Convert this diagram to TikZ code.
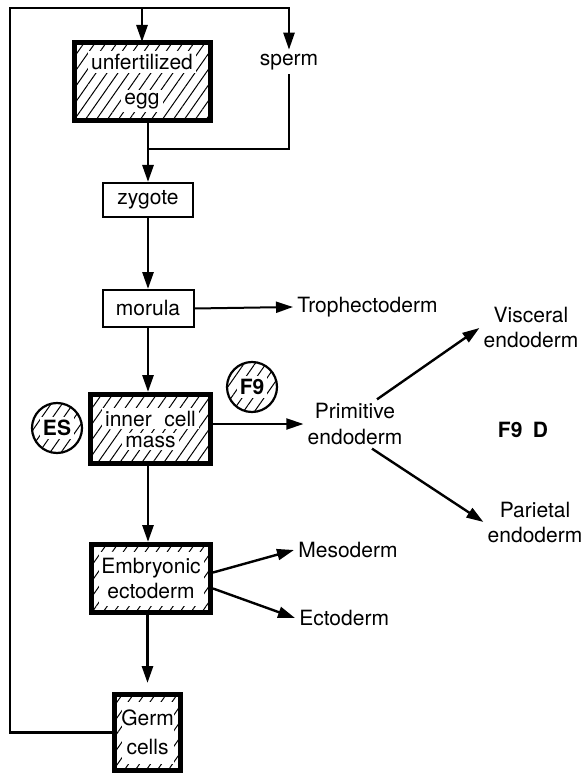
\documentclass[tikz,border=0pt]{standalone}
\usepackage{fontspec}
\setmainfont{TeX Gyre Heros}
\usepackage{tikz}
\usetikzlibrary{arrows.meta}
\usetikzlibrary{calc,shapes,patterns.meta}

\tikzset{
  hachure/.style={pattern={Lines[angle=55,distance=9pt,line width=1pt]}},
  cellbox/.style={draw,line width=5pt,hachure,align=center,inner sep=0pt},
  plainbox/.style={draw,line width=2pt,inner sep=0pt},
  inset/.style={path picture={\fill[white] ([shift={(#1,#1)}]path picture bounding box.south west) rectangle ([shift={(-#1,-#1)}]path picture bounding box.north east);}},
  cellcirc/.style={circle,draw,line width=2.2pt,hachure,minimum size=50pt,inner sep=0pt,font=\fontsize{21}{25}\selectfont\bfseries},
  lbl/.style={align=center},
  fleche/.style={->,line width=2.8pt}
}
\newcommand{\fond}[1]{\colorbox{white}{#1}}

\begin{document}
\begin{tikzpicture}[x=1pt,y=-1pt,line width=2pt,>={Triangle[length=17pt,width=11pt]},font=\fontsize{21}{25}\selectfont]
\useasboundingbox (0,0) rectangle (582,775);
% Boîtes
\node[cellbox,minimum width=136pt,minimum height=78pt] (egg) at (142,81.5) {\fond{unfertilized}\\[10pt]\fond{egg}};
\node (sperm) at (289,62) {sperm};
\node[plainbox,minimum width=90pt,minimum height=34pt] (zygote) at (148,200) {zygote};
\node[plainbox,minimum width=91pt,minimum height=37pt] (morula) at (148,308.5) {morula};
\node[anchor=west] (troph) at (293,307) {Trophectoderm};
\node[cellbox,minimum width=120pt,minimum height=69pt] (icm) at (150.5,429) {\fond{inner\hspace{0.6em}cell}\\[-4pt]\fond{mass}};
\node[cellcirc] (es) at (57,428) {\fond{ES}};
\node[cellcirc] (fnine) at (252,387) {\fond{F9}};
\node[lbl] (prim) at (355,424) {Primitive\\endoderm};
\node[lbl] (visc) at (531,328) {Visceral\\endoderm};
\node[lbl] (pari) at (535,522) {Parietal\\endoderm};
\node (fnined) at (523,430) {\bfseries F9\hspace{0.5em}D};
\node[cellbox,inset=7pt,minimum width=119pt,minimum height=68pt] (embryo) at (151,578.5) {Embryonic\\ectoderm};
\node[anchor=west] (meso) at (294,550) {Mesoderm};
\node[anchor=west] (ecto) at (295,618) {Ectoderm};
\node[cellbox,inset=7pt,minimum width=66pt,minimum height=76pt] (germ) at (147.5,732.5) {Germ\\[4pt]cells};

% Flèches
\coordinate (coinHG) at (10,8);
\coordinate (fusion) at (148,149);
\draw[->,line width=2.4pt] (germ.west) -| (coinHG) -| (sperm.north);
\draw[fleche] (egg.north |- coinHG) -- (egg.north);
\draw (sperm.south) |- (fusion);
\draw[fleche] (egg.south -| fusion) -- (zygote.north);
\draw[fleche] (zygote.south) -- (morula.north);
\draw[->] (morula.east) -- (troph.west);
\draw[fleche] (morula.south) -- (icm.north -| morula);
\draw[->] (icm.east |- prim.west) -- (prim.west);
\draw[->,line width=2.4pt] ([xshift=22pt]prim.north) -- (visc.west);
\draw[->,line width=2.4pt] ([xshift=17pt]prim.south) -- (pari.west);
\draw[fleche] (icm.south -| morula) -- (embryo.north -| morula);
\draw[->,line width=2.4pt] ([yshift=6pt]embryo.east) -- (meso.west);
\draw[->,line width=2.4pt] ([yshift=-10pt]embryo.east) -- (ecto.west);
\draw[fleche,shorten >=9pt] (embryo.south -| germ) -- (germ.north);
\end{tikzpicture}
\end{document}
